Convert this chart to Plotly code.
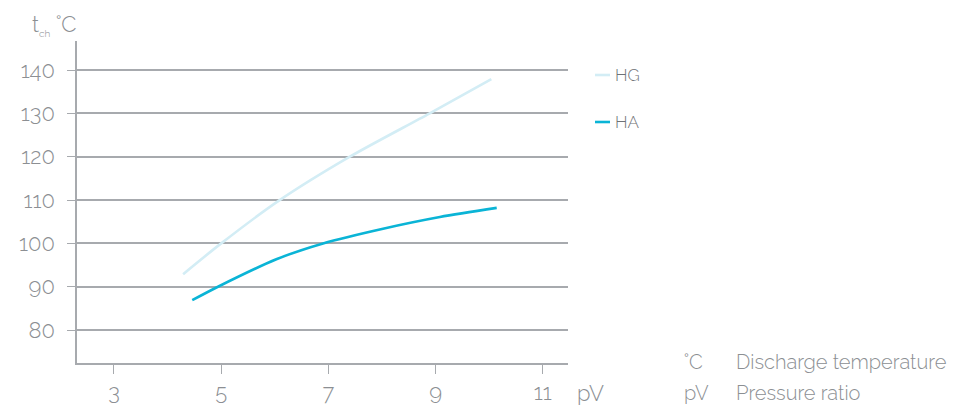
import plotly.graph_objects as go

# Data
hg_x = [4.29, 5.0, 6.07, 7.4, 8.89, 10.04]
hg_y = [92.9, 100.0, 109.8, 120.0, 130.0, 137.9]
ha_x = [4.46, 4.94, 6.04, 6.9, 8.02, 9.08, 10.14]
ha_y = [86.9, 90.0, 96.4, 100.0, 103.4, 106.1, 108.2]

x_ticks = [3, 5, 7, 9, 11]
y_ticks = [80, 90, 100, 110, 120, 130, 140]

series_names = ["HG", "HA"]
series_colors = ["#d3edf5", "#0ab4d6"]

FONT = "Raleway, Lato, 'Open Sans', sans-serif"
TXT = "#8c8f93"
GRID = "#a7aaae"

# page has an 8px body margin; figure sized so the plot lands where the reference's does
OFF = 8
W, H = 960 - OFF, 405 - OFF
PL, PR, PT, PB = 77, 568, 41, 363  # plot area in page pixels


def px(x):
    return (x - PL) / (PR - PL)


def py(y):
    return (PB - y) / (PB - PT)


fig = go.Figure()
for name, xs, ys, col in [("HG", hg_x, hg_y, series_colors[0]), ("HA", ha_x, ha_y, series_colors[1])]:
    fig.add_trace(go.Scatter(x=xs, y=ys, mode="lines", name=name,
                             line=dict(color=col, width=2.6, shape="spline", smoothing=0.8),
                             showlegend=False, hoverinfo="skip"))

tf = dict(size=22, color=TXT, family=FONT, weight=300)
fig.update_layout(
    width=W, height=H,
    margin=dict(l=PL - OFF, r=W - (PR - OFF), t=PT - OFF, b=H - (PB - OFF), autoexpand=False),
    plot_bgcolor="white", paper_bgcolor="white",
    font=dict(family=FONT, color=TXT, size=19, weight=300),
    xaxis=dict(range=[2.31, 11.47], tickvals=x_ticks, showgrid=False, zeroline=False,
               showline=True, linecolor=GRID, linewidth=1.5,
               ticks="outside", ticklen=9, tickcolor=GRID, tickwidth=1.2,
               tickfont=tf, automargin=False),
    yaxis=dict(range=[72.4, 146.7], tickvals=y_ticks, showgrid=True, gridcolor=GRID, gridwidth=1.5,
               zeroline=False, showline=True, linecolor=GRID, linewidth=1.5,
               ticks="outside", ticklen=8, tickcolor=GRID, tickwidth=1.2,
               tickfont=tf, ticklabelstandoff=8, automargin=False),
)

# Manual legend
legend_py = [75, 122]
for name, col, ly in zip(series_names, series_colors, legend_py):
    fig.add_shape(type="line", xref="paper", yref="paper",
                  x0=px(595), x1=px(610), y0=py(ly), y1=py(ly), line=dict(color=col, width=2.6))
    fig.add_annotation(text=name, xref="paper", yref="paper", x=px(613), y=py(ly),
                       xanchor="left", yanchor="middle", showarrow=False,
                       font=dict(size=17, color="#6f7276", family=FONT, weight=300))

# Axis titles
fig.add_annotation(text="t<sub><span style='font-size:10px'>ch</span></sub> ˚C", xref="paper", yref="paper",
                   x=px(30), y=py(25), xanchor="left", yanchor="middle", showarrow=False,
                   font=dict(size=22, color=TXT, family=FONT, weight=300))
fig.add_annotation(text="pV", xref="paper", yref="paper", x=px(575), y=py(393),
                   xanchor="left", yanchor="middle", showarrow=False,
                   font=dict(size=22, color=TXT, family=FONT, weight=300))

# Footnotes
notes = [("˚C", "Discharge temperature", 362), ("pV", "Pressure ratio", 393)]
for sym, desc, ny in notes:
    fig.add_annotation(text=sym, xref="paper", yref="paper", x=px(682), y=py(ny),
                       xanchor="left", yanchor="middle", showarrow=False,
                       font=dict(size=20, color=TXT, family=FONT, weight=300))
    fig.add_annotation(text=desc, xref="paper", yref="paper", x=px(734), y=py(ny),
                       xanchor="left", yanchor="middle", showarrow=False,
                       font=dict(size=20, color=TXT, family=FONT, weight=300))

fig.write_html("out.html")
